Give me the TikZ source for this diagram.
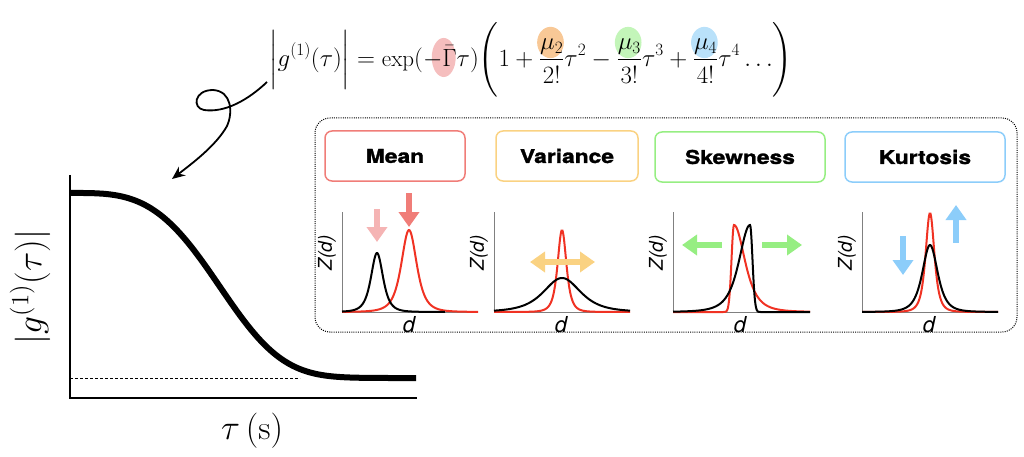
\documentclass[tikz,border=0pt]{standalone}
\usepackage{amsmath}
\usepackage{fontspec}
\usetikzlibrary{arrows.meta,positioning}
\newfontfamily\headfont[FakeStretch=1.2,FakeBold=1.5]{TeX Gyre Heros}
\newfontfamily\plotfont{TeX Gyre Heros}
\definecolor{meanred}{RGB}{240,125,120}
\definecolor{meanpink}{RGB}{245,180,180}
\definecolor{varorange}{RGB}{250,210,130}
\definecolor{skewgreen}{RGB}{150,238,130}
\definecolor{kurtblue}{RGB}{140,205,250}
\definecolor{curvered}{RGB}{240,50,35}
\definecolor{hlred}{RGB}{245,190,190}
\definecolor{hlorange}{RGB}{248,200,150}
\definecolor{hlgreen}{RGB}{195,245,185}
\definecolor{hlblue}{RGB}{185,225,250}
% coloured blob behind a symbol of the equation
\newcommand{\hlmu}[1]{\tikz[overlay]\fill[#1] (0.45em,0.3em) ellipse (0.58em and 0.68em);}
\newcommand{\hlgam}{\tikz[overlay]\fill[hlred] (0.9em,0.38em) ellipse (0.52em and 0.85em);}

\begin{document}
\begin{tikzpicture}[x=1pt,y=-1pt,
        title/.style={draw=#1,line width=1.5pt,rounded corners=7pt,
            minimum height=50pt,font=\headfont\bfseries\fontsize{19}{20}\selectfont},
        zlabel/.style={rotate=90,font=\plotfont\itshape\fontsize{19}{20}\selectfont},
        dlabel/.style={font=\plotfont\itshape\fontsize{22}{22}\selectfont},
        fat/.style={line width=6pt,draw=#1,-{Triangle[width=20pt,length=15pt]}},
        redline/.style={curvered,line width=2pt},
        blackline/.style={black,line width=2pt}]
    \useasboundingbox (0,0) rectangle (1024,457);

    \node (eq) at (531,60) {\fontsize{23}{28}\selectfont
        $\displaystyle\biggl|g^{(1)}(\tau)\biggr| = \exp(\hlgam\mathord{-}\bar{\Gamma}\tau)
        \Biggl(1+\frac{\hlmu{hlorange}\mu_2}{2!}\tau^2-\frac{\hlmu{hlgreen}\mu_3}{3!}\tau^3
        +\frac{\hlmu{hlblue}\mu_4}{4!}\tau^4\ldots\Biggr)$};

    % main correlation curve
    \draw[line width=1.5pt] (70,175) -- (70,398) -- (417,398);
    \draw[dash pattern=on 3pt off 2pt,line width=1pt] (70,378) -- (300,378);
    \draw[line width=6pt] (70,193) -- plot[domain=71:416,samples=150,smooth]
        (\x,{378-185*exp(-pow((\x-70)/166,3.4))});
    \node[rotate=90,scale=1.72] (ylab) at (30,287) {\fontsize{20}{22}\selectfont $|g^{(1)}(\tau)|$};
    \node[scale=1.7] (xlab) at (252,431) {\fontsize{20}{22}\selectfont $\tau\,(\mathrm{s})$};

    \coordinate (sqstart) at (267,82);
    \coordinate (sqend) at (172,179);
    \draw[line width=1.8pt,-{Stealth[length=13pt,width=11pt]}] (sqstart)
        .. controls (248,100) and (225,113) .. (204,110)
        .. controls (192,108) and (194,90) .. (213,90)
        .. controls (232,91) and (233,113) .. (227,126)
        .. controls (216,146) and (190,165) .. (sqend);

    % panel of moments
    \draw[line width=1pt,dash pattern=on 1pt off 1.2pt,rounded corners=15pt] (315,118) rectangle (1017,332);
    \node[title=meanred,minimum width=140pt] (mean) at (395,156) {Mean};
    \node[title=varorange,minimum width=142pt] (var) at (567,156) {Variance};
    \node[title=skewgreen,minimum width=170pt] (skew) at (740,157) {Skewness};
    \node[title=kurtblue,minimum width=160pt] (kurt) at (925,157) {Kurtosis};

    \foreach \ax/\nm in {342/m,494/v,673/s,862/k} {
        \draw[gray,line width=1pt] (\ax,212) -- (\ax,312) -- (\ax+136,312);
        \node[zlabel] (z\nm) at (\ax-15,253) {Z(d)};
        \node[dlabel] (d\nm) at (\ax+67,325) {d};
    }

    % mean
    \draw[redline] plot[domain=342:478,samples=150,smooth] (\x,{312-82/(1+((\x-409)/14)^2)^2});
    \draw[blackline] plot[domain=342:445,samples=150,smooth] (\x,{312-59/(1+((\x-377)/11)^2)^2});
    \draw[fat=meanpink] (377,209) -- (377,242);
    \draw[fat=meanred] (409,193) -- (409,227);

    % variance
    \draw[redline] plot[domain=494:630,samples=150,smooth] (\x,{312-82/(1+((\x-562)/8)^2)^2});
    \draw[blackline] plot[domain=494:630,samples=150,smooth] (\x,{312-34/(1+((\x-562)/34)^2)^2});
    \draw[fat=varorange,{Triangle[width=20pt,length=15pt]}-{Triangle[width=20pt,length=15pt]}] (530,262) -- (595,262);

    % skewness
    \draw[redline] plot[domain=673:810,samples=300,smooth]
        (\x,{\x<734 ? 312-87*exp(-((\x-734)/3.5)^2) : 312-87/(1+((\x-734)/20)^2)^2});
    \draw[blackline] plot[domain=673:810,samples=300,smooth]
        (\x,{\x<750 ? 312-87/(1+((\x-750)/20)^2)^2 : 312-87*exp(-((\x-750)/3.5)^2)});
    \draw[fat=skewgreen] (722,245) -- (682,245);
    \draw[fat=skewgreen] (762,245) -- (802,245);

    % kurtosis
    \draw[redline] plot[domain=862:998,samples=150,smooth] (\x,{312-99/(1+((\x-930)/8)^2)^2});
    \draw[blackline] plot[domain=862:998,samples=150,smooth] (\x,{312-67/(1+((\x-930)/14)^2)^2});
    \draw[fat=kurtblue] (903,236) -- (903,275);
    \draw[fat=kurtblue] (956,243) -- (956,205);
\end{tikzpicture}
\end{document}
